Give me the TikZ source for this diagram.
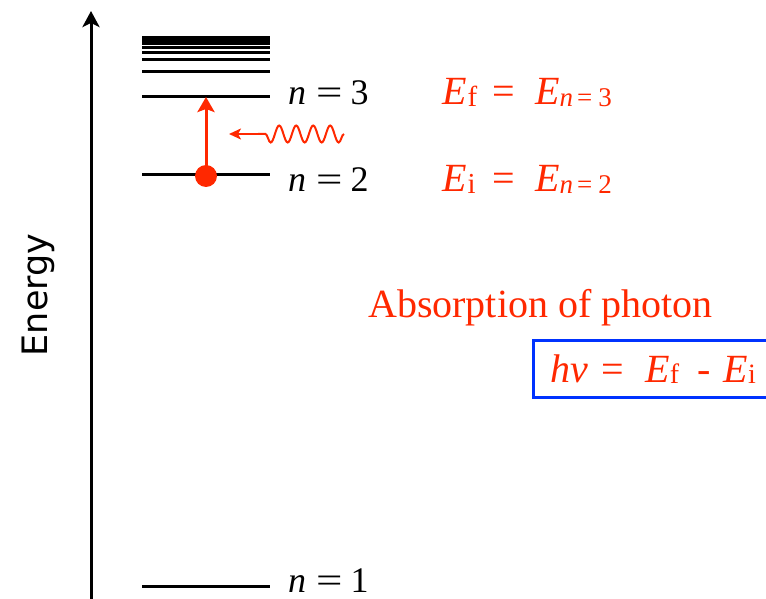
\documentclass[tikz,border=0pt]{standalone}
\usepackage{fontspec}
\setmainfont{Liberation Serif}
\newfontfamily\enfont{DejaVu Sans}
\usetikzlibrary{arrows.meta,decorations.pathmorphing}
\definecolor{myred}{RGB}{255,40,0}
\definecolor{myblue}{RGB}{0,50,255}
\newcommand{\subsz}{\fontsize{29}{29}\selectfont}
\newcommand{\subn}{\fontsize{27}{27}\selectfont}
\newcommand{\wideeq}{\scalebox{1.3}[1]{=}}
\newcommand{\nlabel}[1]{\textit{n}\hspace{10pt}\wideeq\hspace{8pt}#1}
\newcommand{\elabel}[2]{\textit{E}\hspace{1pt}\raisebox{-2pt}{\makebox[11pt][l]{\subsz #1}}\hspace{14pt}=\hspace{20pt}\textit{E}\raisebox{-2pt}{\subn\textit{n}\hspace{4pt}=\hspace{6pt}#2}}
\begin{document}
\begin{tikzpicture}[x=1pt,y=-1pt,
  level/.style={line width=3pt},
  lab/.style={anchor=base west,inner sep=0pt,font=\fontsize{36}{36}\selectfont},
  rlab/.style={anchor=base west,inner sep=0pt,text=myred,font=\fontsize{40}{40}\selectfont}]
\useasboundingbox (0,0) rectangle (766,599);
% axis
\coordinate (a0) at (91,602);
\coordinate (a1) at (91,11);
\draw[line width=3pt,-{Stealth[length=16pt,width=17pt,inset=4pt]}] (a0) -- (a1);
\node[rotate=90,font=\enfont\fontsize{35}{35}\selectfont] (en) at (38,295) {Energy};
% levels
\foreach \y in {38,41,44,48,53,60,72}{
  \draw[line width=3pt] (142,\y) -- (270,\y);
}
\coordinate (l3a) at (142,97); \coordinate (l3b) at (270,97);
\coordinate (l2a) at (142,175); \coordinate (l2b) at (270,175);
\coordinate (l1a) at (142,586); \coordinate (l1b) at (270,586);
\draw[level] (l3a) -- (l3b);
\draw[level] (l2a) -- (l2b);
\draw[level] (l1a) -- (l1b);
\node[lab] (n3) at (288,105) {\nlabel{3}};
\node[lab] (n2) at (288,191) {\nlabel{2}};
\node[lab] (n1) at (288,592) {\nlabel{1}};
% electron and transition
\node[circle,fill=myred,minimum size=22pt,inner sep=0pt] (el) at (206,176) {};
\coordinate (top) at (206,97);
\draw[myred,line width=3pt,-{Stealth[length=15pt,width=17pt,inset=3pt]}] (el.center) -- (top);
% photon
\coordinate (ps) at (344,134);
\coordinate (pw) at (258,134);
\coordinate (pt) at (229,134);
\draw[myred,line width=2pt,decorate,decoration={snake,amplitude=8.5pt,segment length=17pt}] (ps) -- (pw);
\draw[myred,line width=2pt,-{Stealth[length=12pt,width=11pt,inset=3pt]}] (pw) .. controls (252,134) and (248,134) .. (pt);
% energies
\node[rlab] (ef) at (442,105) {\elabel{f}{3}};
\node[rlab] (ei) at (442,191) {\elabel{i}{2}};
\node[anchor=base west,inner sep=0pt,text=myred,font=\fontsize{40}{40}\selectfont] (abs) at (368,317) {Absorption of photon};
\draw[myblue,line width=3pt] (770,340) -- (533,340) -- (533,397) -- (770,397);
\node[rlab] (hv) at (550,382) {\textit{hv}\hspace{14pt}=\hspace{21pt}\textit{E}\raisebox{-1pt}{\fontsize{28}{28}\selectfont f}\hspace{18pt}-\hspace{13pt}\textit{E}\raisebox{-1pt}{\fontsize{28}{28}\selectfont i}};
\end{tikzpicture}
\end{document}
